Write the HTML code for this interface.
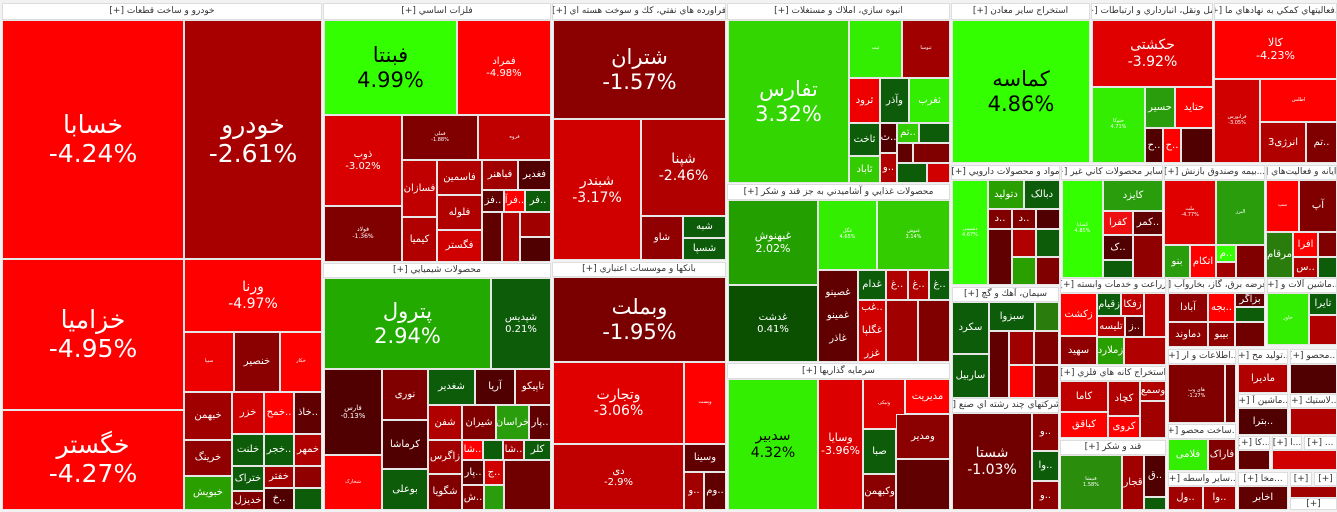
<!DOCTYPE html>
<html><head><meta charset="utf-8"><style>
body{margin:0;width:1337px;height:512px;background:#f2f2f2;overflow:hidden;font-family:"DejaVu Sans","Liberation Sans",sans-serif;position:relative}
.c{position:absolute;box-sizing:border-box;border:1px solid #e6e6e6;color:#fff;display:flex;flex-direction:column;align-items:center;justify-content:center;text-align:center;overflow:hidden;font-size:10px;line-height:1.15;white-space:nowrap}
.h{background:#fff;color:#333;font-size:9px;border:1px solid #ddd;direction:rtl}
.b{font-size:25px}.m{font-size:21px}.s{font-size:14px}.k{color:#000}
</style></head><body>
<!-- group 1 -->
<div class="c h" style="left:2px;top:3px;width:320px;height:17px">خودرو و ساخت قطعات [+]</div>
<div class="c b" style="left:2px;top:20px;width:182px;height:239px;background:#ff0000">خسابا<br>-4.24%</div>
<div class="c b" style="left:184px;top:20px;width:138px;height:239px;background:#a80000">خودرو<br>-2.61%</div>
<div class="c b" style="left:2px;top:259px;width:182px;height:151px;background:#ff0000">خزامیا<br>-4.95%</div>
<div class="c b" style="left:2px;top:410px;width:182px;height:100px;background:#ff0000">خگستر<br>-4.27%</div>
<div class="c s" style="left:184px;top:259px;width:138px;height:73px;background:#ff0000">ورنا<br>-4.97%</div>
<div class="c" style="left:184px;top:332px;width:50px;height:60px;background:#ee0000;font-size:5px">سیپا</div>
<div class="c" style="left:234px;top:332px;width:46px;height:60px;background:#8b0000">خنصیر</div>
<div class="c" style="left:280px;top:332px;width:42px;height:60px;background:#ff0000;font-size:5px">خکار</div>
<div class="c" style="left:184px;top:392px;width:48px;height:48px;background:#a00000">خبهمن</div>
<div class="c" style="left:232px;top:392px;width:32px;height:42px;background:#d00000">خزر</div>
<div class="c" style="left:264px;top:392px;width:30px;height:42px;background:#ff0000">خمح..</div>
<div class="c" style="left:294px;top:392px;width:28px;height:42px;background:#600000">خاذ..</div>
<div class="c" style="left:184px;top:440px;width:48px;height:36px;background:#900000">خرینگ</div>
<div class="c" style="left:184px;top:476px;width:48px;height:34px;background:#2aa000">خبویش</div>
<div class="c" style="left:232px;top:434px;width:32px;height:32px;background:#0d5c0a">خلنت</div>
<div class="c" style="left:264px;top:434px;width:30px;height:32px;background:#0d5c0a">خجر..</div>
<div class="c" style="left:294px;top:434px;width:28px;height:32px;background:#b00000">خمهر</div>
<div class="c" style="left:232px;top:466px;width:32px;height:25px;background:#0d5c0a">ختراک</div>
<div class="c" style="left:232px;top:491px;width:32px;height:19px;background:#800000">خدیزل</div>
<div class="c" style="left:264px;top:466px;width:30px;height:22px;background:#a00000">خفتر</div>
<div class="c" style="left:264px;top:488px;width:30px;height:22px;background:#500000">خ..</div>
<div class="c" style="left:294px;top:466px;width:28px;height:22px;background:#900000"></div>
<div class="c" style="left:294px;top:488px;width:28px;height:22px;background:#0d5c0a"></div>
<!-- group 2 -->
<div class="c h" style="left:323px;top:3px;width:228px;height:17px">فلزات اساسي [+]</div>
<div class="c m k" style="left:324px;top:20px;width:133px;height:95px;background:#33ff00">فبنتا<br>4.99%</div>
<div class="c" style="left:457px;top:20px;width:94px;height:95px;background:#ff0000">فمراد<br>-4.98%</div>
<div class="c" style="left:324px;top:115px;width:78px;height:91px;background:#d80000">ذوب<br>-3.02%</div>
<div class="c" style="left:324px;top:206px;width:78px;height:56px;background:#800000;font-size:6px">فولاد<br>-1.36%</div>
<div class="c" style="left:402px;top:115px;width:76px;height:45px;background:#800000;font-size:5px">فملی<br>-1.88%</div>
<div class="c" style="left:478px;top:115px;width:73px;height:45px;background:#c00000;font-size:5px">فروه</div>
<div class="c" style="left:402px;top:160px;width:35px;height:57px;background:#c00000">فسازان</div>
<div class="c" style="left:402px;top:217px;width:35px;height:45px;background:#b00000">کیمیا</div>
<div class="c" style="left:437px;top:160px;width:45px;height:35px;background:#b00000">فاسمین</div>
<div class="c" style="left:437px;top:195px;width:45px;height:35px;background:#b00000">فلوله</div>
<div class="c" style="left:437px;top:230px;width:45px;height:32px;background:#d00000">فگستر</div>
<div class="c" style="left:482px;top:160px;width:36px;height:30px;background:#a00000">فباهنر</div>
<div class="c" style="left:518px;top:160px;width:33px;height:30px;background:#500000">فغدیر</div>
<div class="c" style="left:482px;top:190px;width:22px;height:22px;background:#600000">فز..</div>
<div class="c" style="left:504px;top:190px;width:21px;height:22px;background:#ff0000">فرآ..</div>
<div class="c" style="left:525px;top:190px;width:26px;height:22px;background:#0d5c0a">فر..</div>
<div class="c" style="left:482px;top:212px;width:20px;height:50px;background:#600000"></div>
<div class="c" style="left:502px;top:212px;width:18px;height:50px;background:#b00000"></div>
<div class="c" style="left:520px;top:212px;width:31px;height:25px;background:#a00000"></div>
<div class="c" style="left:520px;top:237px;width:31px;height:25px;background:#500000"></div>
<div class="c h" style="left:323px;top:263px;width:228px;height:15px">محصولات شيميايي [+]</div>
<div class="c m" style="left:324px;top:278px;width:167px;height:91px;background:#22aa00">پترول<br>2.94%</div>
<div class="c" style="left:491px;top:278px;width:60px;height:91px;background:#0d5c0a">شپدیس<br>0.21%</div>
<div class="c" style="left:324px;top:369px;width:58px;height:86px;background:#500000;font-size:7px">فارس<br>-0.13%</div>
<div class="c" style="left:324px;top:455px;width:58px;height:55px;background:#ff0000;font-size:5px">شخارک</div>
<div class="c" style="left:382px;top:369px;width:46px;height:51px;background:#800000">نوری</div>
<div class="c" style="left:382px;top:420px;width:46px;height:49px;background:#500000">کرماشا</div>
<div class="c" style="left:382px;top:469px;width:46px;height:41px;background:#0d5c0a">بوعلی</div>
<div class="c" style="left:428px;top:369px;width:47px;height:36px;background:#0d5c0a">شغدیر</div>
<div class="c" style="left:475px;top:369px;width:40px;height:36px;background:#500000">آریا</div>
<div class="c" style="left:515px;top:369px;width:36px;height:36px;background:#800000">تاپیکو</div>
<div class="c" style="left:428px;top:405px;width:34px;height:35px;background:#b00000">شفن</div>
<div class="c" style="left:462px;top:405px;width:34px;height:35px;background:#800000">شیران</div>
<div class="c" style="left:496px;top:405px;width:33px;height:35px;background:#2a9d0c">خراسان</div>
<div class="c" style="left:529px;top:405px;width:22px;height:35px;background:#600000">پار..</div>
<div class="c" style="left:428px;top:440px;width:34px;height:34px;background:#a00000">زاگرس</div>
<div class="c" style="left:428px;top:474px;width:34px;height:36px;background:#800000">شگویا</div>
<div class="c" style="left:462px;top:440px;width:21px;height:20px;background:#ff0000">شا..</div>
<div class="c" style="left:483px;top:440px;width:20px;height:20px;background:#0d5c0a"></div>
<div class="c" style="left:503px;top:440px;width:21px;height:20px;background:#a00000">شا..</div>
<div class="c" style="left:524px;top:440px;width:27px;height:20px;background:#0d5c0a">کلر</div>
<div class="c" style="left:462px;top:460px;width:22px;height:25px;background:#600000">پار..</div>
<div class="c" style="left:462px;top:485px;width:22px;height:25px;background:#800000">ش..</div>
<div class="c" style="left:484px;top:460px;width:20px;height:25px;background:#d00000">ج..</div>
<div class="c" style="left:484px;top:485px;width:20px;height:25px;background:#2a9d0c"></div>
<div class="c" style="left:504px;top:460px;width:47px;height:50px;background:#700000"></div>
<!-- group 3 -->
<div class="c h" style="left:552px;top:3px;width:174px;height:17px">فراورده هاي نفتي، كك و سوخت هسته اي [+]</div>
<div class="c m" style="left:553px;top:20px;width:173px;height:99px;background:#8b0000">شتران<br>-1.57%</div>
<div class="c s" style="left:553px;top:119px;width:88px;height:141px;background:#d00000">شبندر<br>-3.17%</div>
<div class="c s" style="left:641px;top:119px;width:85px;height:97px;background:#b00000">شپنا<br>-2.46%</div>
<div class="c" style="left:641px;top:216px;width:42px;height:44px;background:#900000">شاو</div>
<div class="c" style="left:683px;top:216px;width:43px;height:22px;background:#0d5c0a">شبه</div>
<div class="c" style="left:683px;top:238px;width:43px;height:22px;background:#0d5c0a">شسپا</div>
<div class="c h" style="left:552px;top:262px;width:174px;height:15px">بانكها و موسسات اعتباري [+]</div>
<div class="c m" style="left:553px;top:277px;width:173px;height:85px;background:#7a0000">وبملت<br>-1.95%</div>
<div class="c s" style="left:553px;top:362px;width:131px;height:82px;background:#e00000">وتجارت<br>-3.06%</div>
<div class="c" style="left:684px;top:362px;width:42px;height:82px;background:#ff0000;font-size:5px">وپست</div>
<div class="c" style="left:553px;top:444px;width:131px;height:66px;background:#c00000">دی<br>-2.9%</div>
<div class="c" style="left:684px;top:444px;width:42px;height:28px;background:#600000">وسینا</div>
<div class="c" style="left:684px;top:472px;width:20px;height:38px;background:#a00000">و..</div>
<div class="c" style="left:704px;top:472px;width:22px;height:38px;background:#600000">وم..</div>
<!-- group 4 -->
<div class="c h" style="left:727px;top:3px;width:223px;height:17px">انبوه سازي، املاك و مستغلات [+]</div>
<div class="c m" style="left:728px;top:20px;width:121px;height:163px;background:#33d600">تفارس<br>3.32%</div>
<div class="c" style="left:849px;top:20px;width:53px;height:58px;background:#33ee00;font-size:5px">ثبت</div>
<div class="c" style="left:902px;top:20px;width:48px;height:58px;background:#a00000;font-size:5px">ثنوسا</div>
<div class="c" style="left:849px;top:78px;width:31px;height:45px;background:#ee0000">ثرود</div>
<div class="c" style="left:880px;top:78px;width:29px;height:45px;background:#0d5c0a">وآذر</div>
<div class="c" style="left:909px;top:78px;width:41px;height:45px;background:#33ee00">ثغرب</div>
<div class="c" style="left:849px;top:123px;width:31px;height:33px;background:#0d5c0a">ثاخت</div>
<div class="c" style="left:849px;top:156px;width:31px;height:27px;background:#33cc00">ثاباد</div>
<div class="c" style="left:880px;top:123px;width:17px;height:30px;background:#500000">ث..</div>
<div class="c" style="left:880px;top:153px;width:17px;height:30px;background:#b00000">و..</div>
<div class="c" style="left:897px;top:123px;width:22px;height:20px;background:#33cc00">تم..</div>
<div class="c" style="left:919px;top:123px;width:31px;height:20px;background:#0d5c0a"></div>
<div class="c" style="left:897px;top:143px;width:16px;height:20px;background:#600000"></div>
<div class="c" style="left:913px;top:143px;width:37px;height:20px;background:#800000"></div>
<div class="c" style="left:897px;top:163px;width:30px;height:20px;background:#0d5c0a"></div>
<div class="c" style="left:927px;top:163px;width:23px;height:20px;background:#d00000"></div>
<div class="c h" style="left:727px;top:184px;width:223px;height:16px">محصولات غذايي و آشاميدني به جز قند و شكر [+]</div>
<div class="c" style="left:728px;top:200px;width:90px;height:85px;background:#23a000;font-size:11px">غبهنوش<br>2.02%</div>
<div class="c" style="left:818px;top:200px;width:59px;height:70px;background:#33ee00;font-size:5px">غگل<br>4.65%</div>
<div class="c" style="left:877px;top:200px;width:73px;height:70px;background:#33cc00;font-size:5px">غنوش<br>3.14%</div>
<div class="c" style="left:728px;top:285px;width:90px;height:77px;background:#0a5000">غدشت<br>0.41%</div>
<div class="c" style="left:818px;top:270px;width:40px;height:92px;background:#600000">غصینو<br><br>غمینو<br><br>غاذر</div>
<div class="c" style="left:858px;top:270px;width:28px;height:30px;background:#0d5c0a">غدام</div>
<div class="c" style="left:886px;top:270px;width:22px;height:30px;background:#b00000">غ..</div>
<div class="c" style="left:908px;top:270px;width:21px;height:30px;background:#b00000">غ..</div>
<div class="c" style="left:929px;top:270px;width:21px;height:30px;background:#0d5c0a">غ..</div>
<div class="c" style="left:858px;top:300px;width:28px;height:62px;background:#d00000">غب..<br><br>غگلپا<br><br>غزر</div>
<div class="c" style="left:886px;top:300px;width:32px;height:62px;background:#a00000"></div>
<div class="c" style="left:918px;top:300px;width:32px;height:62px;background:#800000"></div>
<div class="c h" style="left:727px;top:363px;width:223px;height:16px">سرمايه گذاريها [+]</div>
<div class="c s k" style="left:728px;top:379px;width:90px;height:131px;background:#33ee00">سدبیر<br>4.32%</div>
<div class="c s" style="left:818px;top:379px;width:45px;height:131px;background:#dd0000;font-size:11px">وسایا<br>-3.96%</div>
<div class="c" style="left:863px;top:379px;width:42px;height:50px;background:#e00000;font-size:5px">ونیکی</div>
<div class="c" style="left:905px;top:379px;width:45px;height:35px;background:#ff0000">مدیریت</div>
<div class="c" style="left:863px;top:429px;width:33px;height:45px;background:#0d5c0a">صبا</div>
<div class="c" style="left:896px;top:414px;width:54px;height:45px;background:#8b0000">ومدیر</div>
<div class="c" style="left:863px;top:474px;width:33px;height:36px;background:#8b0000">وکبهمن</div>
<div class="c" style="left:896px;top:459px;width:54px;height:51px;background:#600000"></div>
<!-- group 5 -->
<div class="c h" style="left:951px;top:3px;width:139px;height:17px">استخراج ساير معادن [+]</div>
<div class="c m k" style="left:952px;top:20px;width:138px;height:143px;background:#33ff00">کماسه<br>4.86%</div>
<div class="c h" style="left:1091px;top:3px;width:122px;height:17px">حمل ونقل، انبارداري و ارتباطات [+]</div>
<div class="c s" style="left:1092px;top:20px;width:121px;height:67px;background:#e00000">حکشتی<br>-3.92%</div>
<div class="c" style="left:1092px;top:87px;width:53px;height:76px;background:#33ee00;font-size:5px">حتوکا<br>4.71%</div>
<div class="c" style="left:1145px;top:87px;width:30px;height:41px;background:#2a9d0c">حسیر</div>
<div class="c" style="left:1175px;top:87px;width:38px;height:41px;background:#ff0000">حتاید</div>
<div class="c" style="left:1145px;top:128px;width:18px;height:35px;background:#500000">ح..</div>
<div class="c" style="left:1163px;top:128px;width:18px;height:35px;background:#ff0000">ح..</div>
<div class="c" style="left:1181px;top:128px;width:32px;height:35px;background:#500000"></div>
<div class="c h" style="left:1214px;top:3px;width:123px;height:17px">...فعاليتهاي كمكي به نهادهاي ما [+]</div>
<div class="c" style="left:1214px;top:20px;width:123px;height:59px;background:#ff0000;font-size:11px">کالا<br>-4.23%</div>
<div class="c" style="left:1214px;top:79px;width:46px;height:84px;background:#d00000;font-size:5px">فرابورس<br>-3.05%</div>
<div class="c" style="left:1260px;top:79px;width:77px;height:43px;background:#ff0000;font-size:5px">اطلس</div>
<div class="c" style="left:1260px;top:122px;width:46px;height:41px;background:#b00000">انرژی3</div>
<div class="c" style="left:1306px;top:122px;width:31px;height:41px;background:#800000">تم..</div>
<!-- row 2 -->
<div class="c h" style="left:951px;top:165px;width:109px;height:15px">مواد و محصولات دارويي [+]</div>
<div class="c h" style="left:1061px;top:165px;width:102px;height:15px">...ساير محصولات كاني غير [+]</div>
<div class="c h" style="left:1164px;top:165px;width:101px;height:15px">...بيمه وصندوق بازنش [+]</div>
<div class="c h" style="left:1266px;top:165px;width:71px;height:15px">...رايانه و فعاليت‌هاي [+]</div>
<div class="c" style="left:952px;top:180px;width:36px;height:105px;background:#33ff00;font-size:5px">دشیمی<br>4.67%</div>
<div class="c" style="left:988px;top:180px;width:36px;height:29px;background:#2aa000">دتولید</div>
<div class="c" style="left:1024px;top:180px;width:36px;height:29px;background:#0d5c0a">دبالک</div>
<div class="c" style="left:988px;top:209px;width:24px;height:20px;background:#800000">د..</div>
<div class="c" style="left:1012px;top:209px;width:24px;height:20px;background:#800000">د..</div>
<div class="c" style="left:1036px;top:209px;width:24px;height:20px;background:#500000"></div>
<div class="c" style="left:988px;top:229px;width:24px;height:56px;background:#600000"></div>
<div class="c" style="left:1012px;top:229px;width:24px;height:28px;background:#b00000"></div>
<div class="c" style="left:1036px;top:229px;width:24px;height:28px;background:#0d5c0a"></div>
<div class="c" style="left:1012px;top:257px;width:24px;height:28px;background:#2aa000"></div>
<div class="c" style="left:1036px;top:257px;width:24px;height:28px;background:#800000"></div>
<div class="c" style="left:1062px;top:180px;width:41px;height:98px;background:#33ff00;font-size:5px">کساپا<br>4.85%</div>
<div class="c" style="left:1103px;top:180px;width:60px;height:31px;background:#2a9d0c">کایزد</div>
<div class="c" style="left:1103px;top:211px;width:30px;height:24px;background:#ee1010">کفرا</div>
<div class="c" style="left:1133px;top:211px;width:30px;height:24px;background:#600000">کمر..</div>
<div class="c" style="left:1103px;top:235px;width:30px;height:25px;background:#500000">ک..</div>
<div class="c" style="left:1133px;top:235px;width:30px;height:43px;background:#900000"></div>
<div class="c" style="left:1103px;top:260px;width:30px;height:18px;background:#0d5c0a"></div>
<div class="c" style="left:1164px;top:180px;width:52px;height:65px;background:#e00000;font-size:5px">ملت<br>-4.77%</div>
<div class="c" style="left:1216px;top:180px;width:49px;height:65px;background:#2a9d0c;font-size:5px">البرز</div>
<div class="c" style="left:1164px;top:245px;width:26px;height:33px;background:#2a9d0c">بنو</div>
<div class="c" style="left:1190px;top:245px;width:26px;height:33px;background:#ff0000">اتکام</div>
<div class="c" style="left:1216px;top:245px;width:20px;height:17px;background:#33ff00">م..</div>
<div class="c" style="left:1236px;top:245px;width:29px;height:33px;background:#800000"></div>
<div class="c" style="left:1216px;top:262px;width:20px;height:16px;background:#a00000"></div>
<div class="c" style="left:1266px;top:180px;width:33px;height:52px;background:#ff0000;font-size:5px">سپ</div>
<div class="c" style="left:1299px;top:180px;width:38px;height:52px;background:#800000">آپ</div>
<div class="c" style="left:1266px;top:232px;width:27px;height:46px;background:#2a7d0c">مرقام</div>
<div class="c" style="left:1293px;top:232px;width:25px;height:25px;background:#ff0000">افرا</div>
<div class="c" style="left:1318px;top:232px;width:19px;height:25px;background:#800000"></div>
<div class="c" style="left:1293px;top:257px;width:25px;height:21px;background:#b00000">س..</div>
<div class="c" style="left:1318px;top:257px;width:19px;height:21px;background:#0d5c0a"></div>
<!-- row 3 -->
<div class="c h" style="left:952px;top:287px;width:107px;height:15px">سيمان، آهك و گچ [+]</div>
<div class="c" style="left:952px;top:302px;width:37px;height:52px;background:#0d5c0a">سکرد</div>
<div class="c" style="left:952px;top:354px;width:37px;height:44px;background:#0d5c0a">ساربیل</div>
<div class="c" style="left:989px;top:302px;width:46px;height:29px;background:#0d5c0a">سبزوا</div>
<div class="c" style="left:1035px;top:302px;width:24px;height:29px;background:#2a7d0c"></div>
<div class="c" style="left:989px;top:331px;width:20px;height:67px;background:#600000"></div>
<div class="c" style="left:1009px;top:331px;width:25px;height:34px;background:#a00000"></div>
<div class="c" style="left:1034px;top:331px;width:25px;height:34px;background:#800000"></div>
<div class="c" style="left:1009px;top:365px;width:25px;height:33px;background:#ff0000"></div>
<div class="c" style="left:1034px;top:365px;width:25px;height:33px;background:#800000"></div>
<div class="c h" style="left:952px;top:398px;width:107px;height:15px">...شركتهاي چند رشته اي صنع [+]</div>
<div class="c s" style="left:952px;top:413px;width:80px;height:97px;background:#700000">شستا<br>-1.03%</div>
<div class="c" style="left:1032px;top:413px;width:27px;height:38px;background:#8b0000">و..</div>
<div class="c" style="left:1032px;top:451px;width:27px;height:30px;background:#0d5c0a">وا..</div>
<div class="c" style="left:1032px;top:481px;width:27px;height:29px;background:#8b0000">و..</div>
<div class="c h" style="left:1060px;top:278px;width:106px;height:15px">زراعت و خدمات وابسته [+]</div>
<div class="c" style="left:1060px;top:293px;width:37px;height:43px;background:#ff0000">زکشت</div>
<div class="c" style="left:1097px;top:293px;width:24px;height:23px;background:#0d5c0a">زقیام</div>
<div class="c" style="left:1121px;top:293px;width:23px;height:23px;background:#c00000">زفکا</div>
<div class="c" style="left:1144px;top:293px;width:22px;height:44px;background:#c00000"></div>
<div class="c" style="left:1097px;top:316px;width:28px;height:21px;background:#b00000">تلیسه</div>
<div class="c" style="left:1125px;top:316px;width:19px;height:21px;background:#600000">ز..</div>
<div class="c" style="left:1060px;top:336px;width:37px;height:29px;background:#900000">سهید</div>
<div class="c" style="left:1097px;top:337px;width:27px;height:28px;background:#2aa000">زملارد</div>
<div class="c" style="left:1124px;top:337px;width:42px;height:28px;background:#b00000"></div>
<div class="c h" style="left:1060px;top:366px;width:106px;height:15px">استخراج كانه هاي فلزي [+]</div>
<div class="c" style="left:1060px;top:381px;width:48px;height:31px;background:#c00000">کاما</div>
<div class="c" style="left:1108px;top:381px;width:32px;height:35px;background:#b00000">کچاد</div>
<div class="c" style="left:1140px;top:381px;width:26px;height:20px;background:#b00000">وسمع</div>
<div class="c" style="left:1140px;top:401px;width:26px;height:37px;background:#a00000"></div>
<div class="c" style="left:1060px;top:412px;width:48px;height:26px;background:#ff0000">کباقق</div>
<div class="c" style="left:1108px;top:416px;width:32px;height:22px;background:#ff0000">کروی</div>
<div class="c h" style="left:1060px;top:440px;width:106px;height:15px">قند و شكر [+]</div>
<div class="c" style="left:1060px;top:455px;width:62px;height:55px;background:#2a8d0c;font-size:5px">قنیشا<br>1.58%</div>
<div class="c" style="left:1122px;top:455px;width:22px;height:55px;background:#a00000">قجار</div>
<div class="c" style="left:1144px;top:455px;width:22px;height:42px;background:#500000">ق..</div>
<div class="c" style="left:1144px;top:497px;width:22px;height:13px;background:#0d5c0a"></div>
<div class="c h" style="left:1168px;top:278px;width:97px;height:15px">...عرضه برق، گاز، بخاروآب [+]</div>
<div class="c" style="left:1168px;top:293px;width:40px;height:29px;background:#900000">آبادا</div>
<div class="c" style="left:1208px;top:293px;width:27px;height:29px;background:#ff0000">بجه..</div>
<div class="c" style="left:1235px;top:293px;width:30px;height:14px;background:#600000">بزاگر</div>
<div class="c" style="left:1235px;top:307px;width:30px;height:15px;background:#0d5c0a"></div>
<div class="c" style="left:1168px;top:322px;width:40px;height:25px;background:#900000">دماوند</div>
<div class="c" style="left:1208px;top:322px;width:27px;height:25px;background:#900000">بیبو</div>
<div class="c" style="left:1235px;top:322px;width:30px;height:25px;background:#700000"></div>
<div class="c h" style="left:1267px;top:278px;width:70px;height:15px">...ماشين آلات و [+]</div>
<div class="c" style="left:1267px;top:293px;width:42px;height:52px;background:#33ee00;font-size:5px">خاور</div>
<div class="c" style="left:1309px;top:293px;width:28px;height:22px;background:#0d5c0a">تایرا</div>
<div class="c" style="left:1309px;top:315px;width:28px;height:30px;background:#b00000"></div>
<div class="c h" style="left:1168px;top:349px;width:68px;height:15px">...اطلاعات و ار [+]</div>
<div class="c" style="left:1168px;top:364px;width:57px;height:59px;background:#800000;font-size:5px">های وب<br>-1.27%</div>
<div class="c" style="left:1225px;top:364px;width:11px;height:59px;background:#700000"></div>
<div class="c h" style="left:1238px;top:349px;width:50px;height:15px">...تولید مح [+]</div>
<div class="c" style="left:1238px;top:364px;width:50px;height:29px;background:#b00000">ماديرا</div>
<div class="c h" style="left:1238px;top:394px;width:50px;height:14px">...ماشين آ [+]</div>
<div class="c" style="left:1238px;top:408px;width:50px;height:27px;background:#500000">بترا..</div>
<div class="c h" style="left:1290px;top:349px;width:47px;height:15px">...محصو [+]</div>
<div class="c" style="left:1290px;top:364px;width:47px;height:30px;background:#500000"></div>
<div class="c h" style="left:1290px;top:394px;width:47px;height:14px">...لاستيك [+]</div>
<div class="c" style="left:1290px;top:408px;width:47px;height:27px;background:#b00000"></div>
<div class="c h" style="left:1168px;top:424px;width:68px;height:15px">...ساخت محصو [+]</div>
<div class="c" style="left:1168px;top:439px;width:40px;height:32px;background:#33ee00">فلامی</div>
<div class="c" style="left:1208px;top:439px;width:28px;height:32px;background:#800000">فاراک</div>
<div class="c h" style="left:1168px;top:472px;width:68px;height:14px">...ساير واسطه [+]</div>
<div class="c" style="left:1168px;top:486px;width:35px;height:24px;background:#a00000">ول..</div>
<div class="c" style="left:1203px;top:486px;width:33px;height:24px;background:#a00000">وا..</div>
<div class="c h" style="left:1238px;top:436px;width:32px;height:14px">...کا [+]</div>
<div class="c" style="left:1238px;top:450px;width:32px;height:20px;background:#600000"></div>
<div class="c h" style="left:1272px;top:436px;width:30px;height:14px">...ا [+]</div>
<div class="c h" style="left:1304px;top:436px;width:33px;height:14px">... [+]</div>
<div class="c" style="left:1272px;top:450px;width:65px;height:20px;background:#d00000"></div>
<div class="c h" style="left:1238px;top:472px;width:50px;height:14px">...مخا [+]</div>
<div class="c" style="left:1238px;top:486px;width:50px;height:24px;background:#600000">اخابر</div>
<div class="c h" style="left:1290px;top:472px;width:22px;height:14px">[+]</div>
<div class="c h" style="left:1314px;top:472px;width:23px;height:14px">[+]</div>
<div class="c" style="left:1290px;top:486px;width:47px;height:12px;background:#a00000"></div>
<div class="c h" style="left:1290px;top:498px;width:47px;height:12px">[+]</div>
</body></html>
